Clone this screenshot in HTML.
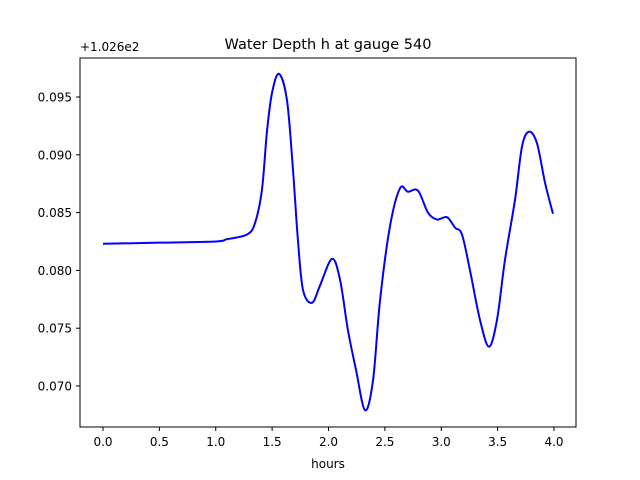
<!DOCTYPE html>
<html><head><meta charset="utf-8"><style>
body{margin:0;background:#fff;}
svg{display:block;font-family:"DejaVu Sans","Liberation Sans",sans-serif;}
</style></head><body>
<svg id="chart" width="640" height="480">
<rect width="640" height="480" fill="#fff"/>
<text x="328" y="49" font-size="14.5" text-anchor="middle">Water Depth h at gauge 540</text>
<text x="80" y="51" font-size="12">+1.026e2</text>
<text x="328" y="468" font-size="12" text-anchor="middle">hours</text>
<g id="xticks"></g>
<g id="yticks"></g>
<path id="line" fill="none" stroke="#0000ff" stroke-width="2"/>
<rect x="80" y="58" width="496" height="369" fill="none" stroke="#000" stroke-width="1"/>
</svg>
<script>
const hours = [0,0.5,1.0,1.1,1.277,1.348,1.41,1.455,1.5,1.561,1.632,1.685,1.729,1.774,1.854,1.925,2.031,2.102,2.173,2.244,2.324,2.395,2.457,2.545,2.634,2.705,2.794,2.882,2.962,3.051,3.122,3.184,3.255,3.344,3.423,3.494,3.565,3.654,3.716,3.778,3.849,3.92,3.991];
const depth = [0.0823,0.0824,0.0825,0.0827,0.0831,0.0841,0.0870,0.0921,0.0954,0.0970,0.0947,0.0887,0.0826,0.0783,0.0772,0.0787,0.0810,0.0792,0.0748,0.0714,0.0679,0.0705,0.0774,0.0838,0.0871,0.0868,0.0869,0.0850,0.0844,0.0846,0.0837,0.0831,0.0800,0.0757,0.0734,0.0757,0.0809,0.0861,0.0907,0.0920,0.0910,0.0876,0.0849];
const xTicks = [0,0.5,1.0,1.5,2.0,2.5,3.0,3.5,4.0];
const yTicks = [0.070,0.075,0.080,0.085,0.090,0.095];
const xs = t => 103 + t*112.75;
const ys = v => 97 + (0.095 - v)*11560;
const NS="http://www.w3.org/2000/svg";
const gx=document.getElementById('xticks'), gy=document.getElementById('yticks');
xTicks.forEach(t=>{
  const l=document.createElementNS(NS,'line');
  l.setAttribute('x1',xs(t));l.setAttribute('x2',xs(t));l.setAttribute('y1',427);l.setAttribute('y2',431);l.setAttribute('stroke','#000');
  
  
  gx.appendChild(l);
  const tx=document.createElementNS(NS,'text');
  tx.setAttribute('x',xs(t));tx.setAttribute('y',446);tx.setAttribute('font-size','12');tx.setAttribute('text-anchor','middle');
  tx.textContent=t.toFixed(1);
  
  
  gx.appendChild(tx);
});
yTicks.forEach(v=>{
  const l=document.createElementNS(NS,'line');
  l.setAttribute('x1',76);l.setAttribute('x2',80);l.setAttribute('y1',ys(v));l.setAttribute('y2',ys(v));l.setAttribute('stroke','#000');
  
  
  gy.appendChild(l);
  const tx=document.createElementNS(NS,'text');
  tx.setAttribute('x',72);tx.setAttribute('y',ys(v)+4.5);tx.setAttribute('font-size','12');tx.setAttribute('text-anchor','end');
  tx.textContent=v.toFixed(3);
  
  
  gy.appendChild(tx);
});
const P=hours.map((t,i)=>[xs(t),ys(depth[i])]);
let d='M'+P[0][0]+','+P[0][1];
for(let i=0;i<P.length-1;i++){
  const p0=P[Math.max(i-1,0)],p1=P[i],p2=P[i+1],p3=P[Math.min(i+2,P.length-1)];
  const c1=[p1[0]+(p2[0]-p0[0])/6,p1[1]+(p2[1]-p0[1])/6];
  const c2=[p2[0]-(p3[0]-p1[0])/6,p2[1]-(p3[1]-p1[1])/6];
  d+=' C'+c1+' '+c2+' '+p2;
}
document.getElementById('line').setAttribute('d',d);
</script>
</body></html>
